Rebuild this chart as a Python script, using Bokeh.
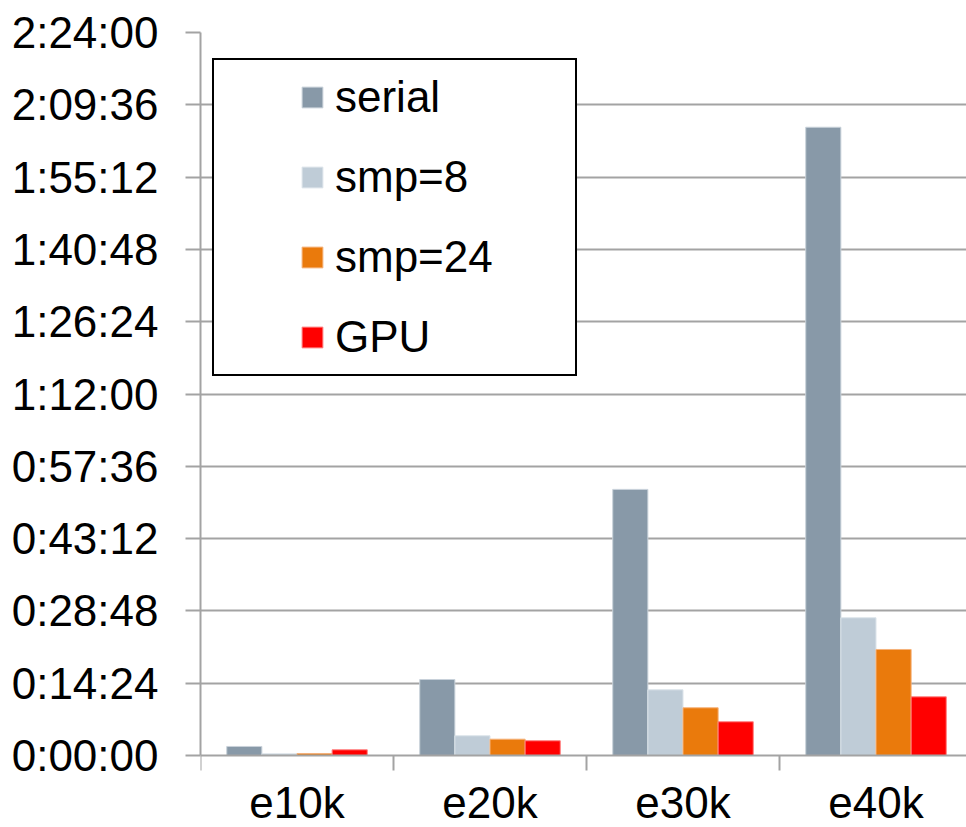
import numpy as np
from bokeh.plotting import figure
from bokeh.models import Range1d, FixedTicker, Legend, LegendItem, LinearAxis
from bokeh.embed import file_html
from bokeh.resources import INLINE

# ---- data (run times in seconds) ----
categories = ["e10k", "e20k", "e30k", "e40k"]
serial = [108, 908, 3180, 7508]
smp8 = [20, 236, 785, 1646]
smp24 = [24, 195, 570, 1267]
gpu = [68, 176, 403, 701]

series_names = ["serial", "smp=8", "smp=24", "GPU"]
series_values = [serial, smp8, smp24, gpu]
series_colors = ["#8899A8", "#BFCCD7", "#EA7A0C", "#FF0000"]
series_edges = ["#C9D2DA", "#DCE4EA", "#F5B27A", "#FF8080"]

y_tick_values = [0, 864, 1728, 2592, 3456, 4320, 5184, 6048, 6912, 7776, 8640]
y_tick_labels = ["0:00:00", "0:14:24", "0:28:48", "0:43:12", "0:57:36", "1:12:00",
                 "1:26:24", "1:40:48", "1:55:12", "2:09:36", "2:24:00"]

FONT = "Liberation Sans"
GRID = "#A3A3A3"

Y_MAX = 8640
PLOT_H = 723          # pixels from 0 to Y_MAX
BOTTOM_SPACE = 72     # pixels kept below the zero line for category labels
y_min = -BOTTOM_SPACE / PLOT_H * Y_MAX

p = figure(frame_width=766, frame_height=PLOT_H + BOTTOM_SPACE,
           output_backend="svg", toolbar_location=None,
           x_range=Range1d(0, 766 / 193), y_range=Range1d(y_min, Y_MAX),
           x_axis_location=None,
           min_border_left=200, min_border_right=0, min_border_top=32,
           min_border_bottom=0)
p.outline_line_color = None
p.background_fill_color = "white"
p.border_fill_color = "white"

bar_w = 0.182
centers = np.arange(len(categories)) + 0.5
offsets = [-1.5, -0.5, 0.5, 1.5]
renderers = []
for name, vals, col, edge, off in zip(series_names, series_values, series_colors,
                                       series_edges, offsets):
    r = p.vbar(x=centers + off * bar_w, top=vals, bottom=0, width=bar_w,
               fill_color=col, line_color=edge, line_width=1)
    renderers.append(r)

# y axis
p.yaxis.bounds = (0, Y_MAX)
p.yaxis.ticker = FixedTicker(ticks=y_tick_values, minor_ticks=[])
p.yaxis.major_label_overrides = {v: l for v, l in zip(y_tick_values, y_tick_labels)}
p.yaxis.major_label_text_font = FONT
p.yaxis.major_label_text_font_size = "44px"
p.yaxis.major_label_text_color = "black"
p.yaxis.major_tick_out = 15
p.yaxis.major_tick_in = 0
p.yaxis.major_tick_line_color = GRID
p.yaxis.major_tick_line_width = 2
p.yaxis.axis_line_color = GRID
p.yaxis.axis_line_width = 2
p.yaxis.major_label_standoff = 27

# x axis at the zero line: labels at centres, ticks at boundaries
xaxis = LinearAxis(fixed_location=0,
                   ticker=FixedTicker(ticks=list(centers), minor_ticks=[0, 1, 2, 3, 4]))
xaxis.major_label_overrides = {float(c): l for c, l in zip(centers, categories)}
xaxis.major_label_text_font = FONT
xaxis.major_label_text_font_size = "44px"
xaxis.major_label_text_color = "black"
xaxis.major_tick_line_color = None
xaxis.major_tick_out = 15
xaxis.major_tick_in = 0
xaxis.minor_tick_out = 15
xaxis.minor_tick_in = 0
xaxis.minor_tick_line_color = GRID
xaxis.minor_tick_line_width = 2
xaxis.axis_line_color = GRID
xaxis.axis_line_width = 2
xaxis.major_label_standoff = 7
p.add_layout(xaxis, "below")

p.xgrid.grid_line_color = None
p.ygrid.ticker = FixedTicker(ticks=y_tick_values[1:])
p.ygrid.grid_line_color = GRID
p.ygrid.grid_line_width = 2

legend = Legend(
    items=[LegendItem(label=n, renderers=[r]) for n, r in zip(series_names, renderers)],
    location=(12, 451),
    orientation="vertical",
    label_text_font=FONT,
    label_text_font_size="44px",
    label_text_color="black",
    glyph_width=26, glyph_height=26,
    label_standoff=10,
    label_width=228,
    label_height=49,
    spacing=30,
    padding=12,
    margin=0,
    border_line_color="black",
    border_line_alpha=1.0,
    border_line_width=2,
    background_fill_color="white",
    background_fill_alpha=1,
    title=" ",
    title_location="left",
    title_text_font_size="1px",
    title_standoff=72,
)
p.add_layout(legend)

open("out.html", "w").write(file_html(p, INLINE))
